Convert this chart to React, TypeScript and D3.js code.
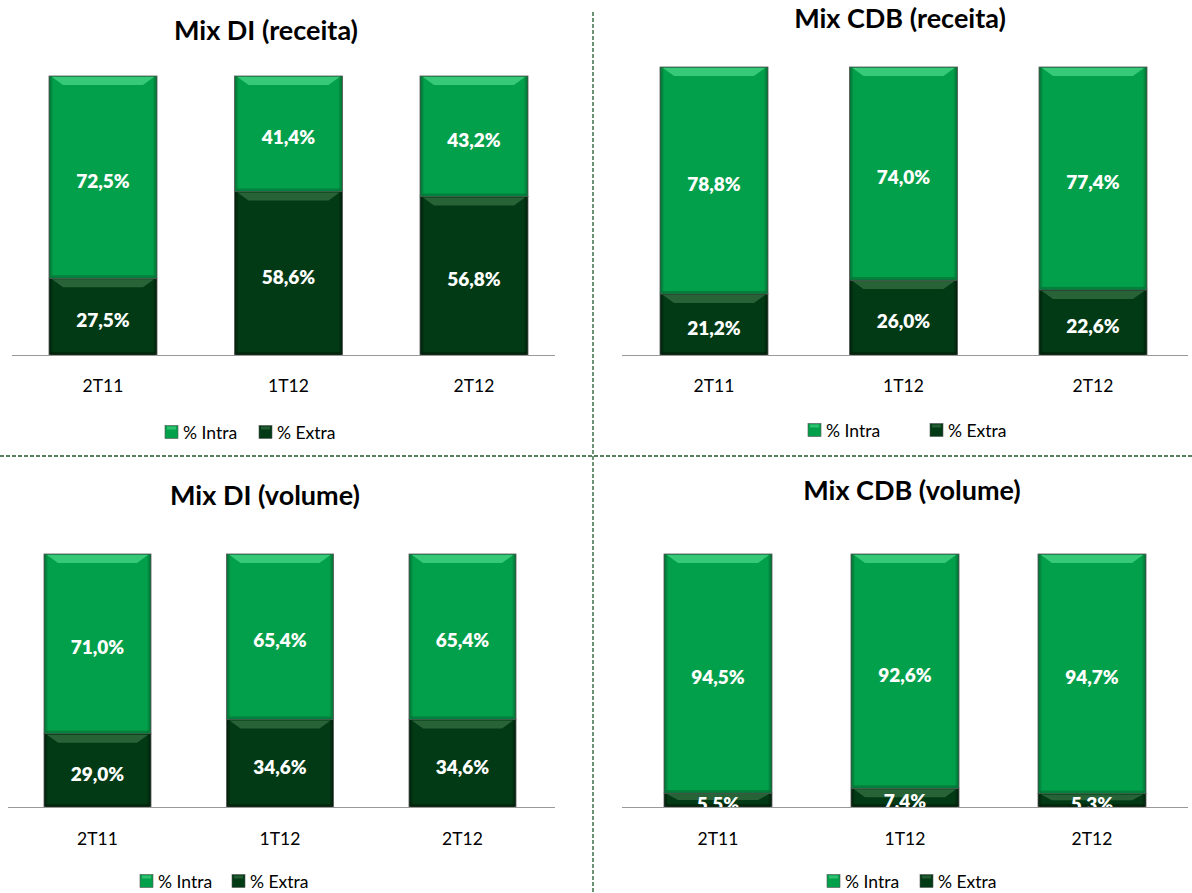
import React from "react";
import * as d3 from "d3";

const categories = ["2T11", "1T12", "2T12"];
const seriesNames = ["% Intra", "% Extra"];

const diReceitaIntra = [72.5, 41.4, 43.2];
const diReceitaExtra = [27.5, 58.6, 56.8];
const cdbReceitaIntra = [78.8, 74.0, 77.4];
const cdbReceitaExtra = [21.2, 26.0, 22.6];
const diVolumeIntra = [71.0, 65.4, 65.4];
const diVolumeExtra = [29.0, 34.6, 34.6];
const cdbVolumeIntra = [94.5, 92.6, 94.7];
const cdbVolumeExtra = [5.5, 7.4, 5.3];

const FONT = "Lato, 'Open Sans', sans-serif";
const fmt = d3.formatLocale({ decimal: ",", thousands: ".", grouping: [3], currency: ["", ""] }).format(".1f");

// colours: base, bevel light, edge dark
const palette: Record<string, { base: string; light: string; dark: string }> = {
  "% Intra": { base: "#03a04b", light: "#3fd07f", dark: "#046b31" },
  "% Extra": { base: "#023a15", light: "#2f6b3e", dark: "#011d09" },
};

type PanelProps = {
  id: string;
  title: string;
  titleX: number;
  titleY: number;
  intra: number[];
  extra: number[];
  c1: number;
  c3: number;
  bw: number;
  top: number;
  base: number;
  axisX: [number, number];
  labelY: number;
  legendY: number;
  legendX: [number, number];
};

function Segment({ x, y, w, h, k }: { x: number; y: number; w: number; h: number; k: string }) {
  const p = palette[k];
  const gid = k === "% Intra" ? "gIntra" : "gExtra";
  const bev = Math.min(9, h / 2);
  return (
    <g>
      <rect x={x} y={y} width={w} height={h} fill={`url(#${gid})`} stroke="#555" strokeWidth={0.8} />
      <polygon
        points={`${x + 3},${y + 1} ${x + w - 3},${y + 1} ${x + w - 14},${y + bev} ${x + 14},${y + bev}`}
        fill={p.light}
        opacity={0.85}
      />
      <rect x={x + 2} y={y + h - 3} width={w - 4} height={Math.min(3, h)} fill={p.dark} opacity={0.6} />
    </g>
  );
}

function Panel(props: PanelProps) {
  const { id, intra, extra, c1, c3, bw, top, base } = props;
  const step = (c3 - c1) / 2;
  const pi = 1 - bw / step;
  const x = d3
    .scaleBand<string>()
    .domain(categories)
    .range([c1 - step / 2, c3 + step / 2])
    .paddingInner(pi)
    .paddingOuter(pi / 2);
  const y = d3.scaleLinear().domain([0, 100]).range([base, top]);

  const rows = categories.map((c, i) => ({ cat: c, "% Extra": extra[i], "% Intra": intra[i] }));
  const stack = d3.stack<any>().keys(["% Extra", "% Intra"])(rows);

  return (
    <g>
      <defs>
        <clipPath id={`clip-${id}`}>
          <rect x={0} y={top - 5} width={1192} height={base - top + 5} />
        </clipPath>
      </defs>
      <text
        x={props.titleX}
        y={props.titleY}
        textAnchor="middle"
        fontFamily={FONT}
        fontWeight={700}
        fontSize={27}
        fill="#000"
      >
        {props.title}
      </text>
      {stack.map((layer) =>
        layer.map((d, i) => {
          const bx = x(d.data.cat) as number;
          const y0 = y(d[1]);
          const y1 = y(d[0]);
          return (
            <Segment key={layer.key + i} x={bx} y={y0} w={x.bandwidth()} h={y1 - y0} k={layer.key} />
          );
        })
      )}
      <g clipPath={`url(#clip-${id})`}>
        {stack.map((layer) =>
          layer.map((d, i) => (
            <text
              key={"t" + layer.key + i}
              x={(x(d.data.cat) as number) + x.bandwidth() / 2}
              y={(y(d[0]) + y(d[1])) / 2 + 3}
              textAnchor="middle"
              dominantBaseline="central"
              fontFamily={FONT}
              fontWeight={800}
              fontSize={19}
              fill="#fff"
            >
              {fmt(d[1] - d[0]) + "%"}
            </text>
          ))
        )}
      </g>
      <line x1={props.axisX[0]} x2={props.axisX[1]} y1={base + 0.5} y2={base + 0.5} stroke="#999" strokeWidth={1.2} />
      {categories.map((c) => (
        <text
          key={c}
          x={(x(c) as number) + x.bandwidth() / 2}
          y={props.labelY}
          textAnchor="middle"
          dominantBaseline="central"
          fontFamily={FONT}
          fontSize={17.5}
          fill="#000"
        >
          {c}
        </text>
      ))}
      {seriesNames.map((s, i) => (
        <g key={s} transform={`translate(${props.legendX[i]},${props.legendY})`}>
          <rect x={0} y={-6.5} width={13} height={13} fill={`url(#${s === "% Intra" ? "gIntra" : "gExtra"})`} stroke="#555" strokeWidth={0.6} />
          <rect x={2} y={-5.5} width={9} height={3} fill={palette[s].light} opacity={0.7} />
          <text x={18} y={0} dominantBaseline="central" fontFamily={FONT} fontSize={17.5} fill="#000">
            {s}
          </text>
        </g>
      ))}
    </g>
  );
}

export default function App() {
  return (
    <svg width={1192} height={893} style={{ position: "absolute", left: 0, top: 0, background: "#fff" }}>
      <defs>
        {(["% Intra", "% Extra"] as const).map((k) => (
          <linearGradient key={k} id={k === "% Intra" ? "gIntra" : "gExtra"} x1="0" x2="1" y1="0" y2="0">
            <stop offset="0" stopColor={palette[k].dark} />
            <stop offset="0.04" stopColor={palette[k].base} />
            <stop offset="0.96" stopColor={palette[k].base} />
            <stop offset="1" stopColor={palette[k].dark} />
          </linearGradient>
        ))}
      </defs>
      <rect width={1192} height={893} fill="#fff" />
      <line x1={593} x2={593} y1={12} y2={893} stroke="#1e5a2a" strokeWidth={1.3} strokeDasharray="4,2" />
      <line x1={0} x2={1192} y1={456} y2={456} stroke="#1e5a2a" strokeWidth={1.3} strokeDasharray="4,2" />
      <Panel
        id="p1"
        title="Mix DI (receita)"
        titleX={266}
        titleY={40}
        intra={diReceitaIntra}
        extra={diReceitaExtra}
        c1={103}
        c3={474}
        bw={108}
        top={76}
        base={355}
        axisX={[12, 555]}
        labelY={385}
        legendY={432}
        legendX={[165, 259]}
      />
      <Panel
        id="p2"
        title="Mix CDB (receita)"
        titleX={900}
        titleY={28}
        intra={cdbReceitaIntra}
        extra={cdbReceitaExtra}
        c1={714}
        c3={1093}
        bw={108}
        top={67}
        base={355}
        axisX={[622, 1188]}
        labelY={385}
        legendY={430}
        legendX={[808, 930]}
      />
      <Panel
        id="p3"
        title="Mix DI (volume)"
        titleX={265}
        titleY={505}
        intra={diVolumeIntra}
        extra={diVolumeExtra}
        c1={97.5}
        c3={462.5}
        bw={107}
        top={554}
        base={807}
        axisX={[8, 555]}
        labelY={838}
        legendY={881}
        legendX={[140, 232]}
      />
      <Panel
        id="p4"
        title="Mix CDB (volume)"
        titleX={912}
        titleY={500}
        intra={cdbVolumeIntra}
        extra={cdbVolumeExtra}
        c1={718}
        c3={1092}
        bw={108}
        top={554}
        base={807}
        axisX={[622, 1188]}
        labelY={838}
        legendY={881}
        legendX={[827, 920]}
      />
    </svg>
  );
}
